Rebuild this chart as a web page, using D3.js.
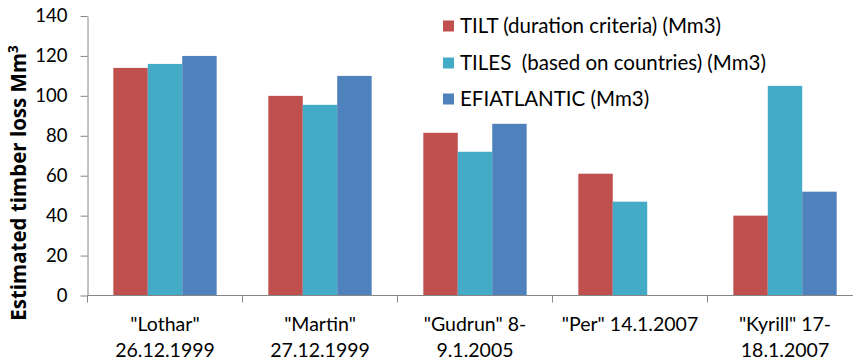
<!DOCTYPE html>
<html>
<head>
<meta charset="utf-8">
<script src="https://cdn.jsdelivr.net/npm/d3@7"></script>
<style>
  html, body { margin: 0; padding: 0; background: #fff; }
  svg text { font-family: Lato, "Open Sans", sans-serif; fill: #000; }
</style>
</head>
<body>
<svg id="chart" width="853" height="364"></svg>
<script>
// Storm events (x categories), each label split over two lines
const categories = ["Lothar", "Martin", "Gudrun", "Per", "Kyrill"];
const categoryLines = [
  ["\"Lothar\"", "26.12.1999"],
  ["\"Martin\"", "27.12.1999"],
  ["\"Gudrun\" 8-", "9.1.2005"],
  ["\"Per\" 14.1.2007"],
  ["\"Kyrill\" 17-", "18.1.2007"]
];

// Series names and estimated timber loss (Mm3)
const seriesNames = [
  "TILT (duration criteria) (Mm3)",
  "TILES  (based on countries) (Mm3)",
  "EFIATLANTIC (Mm3)"
];
const tiltValues   = [114, 100, 81.5, 61, 40];
const tilesValues  = [116, 95.5, 72, 47, 105];
const efiValues    = [120, 110, 86, null, 52];
const seriesColors = ["#C0504D", "#43ABC5", "#4F81BD"];

const yTicks = [0, 20, 40, 60, 80, 100, 120, 140];

const svg = d3.select("#chart");
const axisColor = "#868686";

const plot = { left: 87.5, right: 862.5, top: 16, bottom: 295.5 };

const x = d3.scaleBand().domain(categories).range([plot.left, plot.right]).paddingInner(0).paddingOuter(0);
const xs = d3.scaleBand().domain([0, 1, 2]).range([0, x.bandwidth()]).paddingInner(0).paddingOuter(0.75);
const y = d3.scaleLinear().domain([0, 140]).range([plot.bottom, plot.top]);

const allSeries = [tiltValues, tilesValues, efiValues];

// Bars
const groups = svg.append("g").selectAll("g")
  .data(categories)
  .join("g")
  .attr("transform", d => `translate(${x(d)},0)`);

groups.selectAll("rect")
  .data((c, i) => allSeries.map((s, k) => ({ k, v: s[i] })).filter(d => d.v != null))
  .join("rect")
  .attr("x", d => xs(d.k))
  .attr("width", xs.bandwidth())
  .attr("y", d => y(d.v))
  .attr("height", d => y(0) - y(d.v))
  .attr("fill", d => seriesColors[d.k]);

// Y axis
const yAxis = svg.append("g")
  .attr("transform", `translate(${plot.left},0)`)
  .call(d3.axisLeft(y).tickValues(yTicks).tickSize(7).tickSizeOuter(0).tickPadding(13));
yAxis.select(".domain").attr("stroke", axisColor);
yAxis.selectAll(".tick line").attr("stroke", axisColor);
yAxis.selectAll(".tick text").style("font-size", "18.5px").style("font-family", "Lato, sans-serif").attr("fill", "#000");

// X axis line and category boundary ticks
const xAxis = svg.append("g");
xAxis.append("line")
  .attr("x1", plot.left).attr("x2", plot.right)
  .attr("y1", y(0)).attr("y2", y(0))
  .attr("stroke", axisColor);
xAxis.selectAll("line.bound")
  .data(categories.map(c => x(c)).concat([x(categories[categories.length - 1]) + x.bandwidth()]))
  .join("line")
  .attr("class", "bound")
  .attr("x1", d => d).attr("x2", d => d)
  .attr("y1", y(0)).attr("y2", y(0) + 7)
  .attr("stroke", axisColor);

// X category labels
const xl = xAxis.selectAll("text.cat")
  .data(categories)
  .join("text")
  .attr("class", "cat")
  .attr("text-anchor", "middle")
  .style("font-size", "19.5px")
  .attr("x", d => x(d) + x.bandwidth() / 2)
  .attr("y", 331);
xl.selectAll("tspan")
  .data((d, i) => categoryLines[i])
  .join("tspan")
  .attr("x", function () { return d3.select(this.parentNode).attr("x"); })
  .attr("dy", (d, i) => i === 0 ? 0 : 26)
  .text(d => d);

// Y axis title
const yTitle = svg.append("text")
  .attr("transform", `translate(25.5,${183}) rotate(-90)`)
  .attr("text-anchor", "middle")
  .style("font-family", "'Open Sans', sans-serif")
  .style("font-size", "20.5px")
  .style("font-weight", "bold");
yTitle.append("tspan").text("Estimated timber loss Mm");
yTitle.append("tspan").attr("dy", -8).style("font-size", "13.5px").text("3");

// Legend
const legend = svg.append("g").attr("transform", "translate(443,0)");
const rowY = [26, 63, 99];
const lg = legend.selectAll("g")
  .data(seriesNames)
  .join("g")
  .attr("transform", (d, i) => `translate(0,${rowY[i]})`);
lg.append("rect")
  .attr("x", 0).attr("y", -5.5)
  .attr("width", 11).attr("height", 11)
  .attr("fill", (d, i) => seriesColors[i]);
lg.append("text")
  .attr("x", 17)
  .attr("dy", "0.35em")
  .style("font-size", "20.5px")
  .style("white-space", "pre")
  .attr("xml:space", "preserve")
  .text(d => d);
</script>
</body>
</html>
